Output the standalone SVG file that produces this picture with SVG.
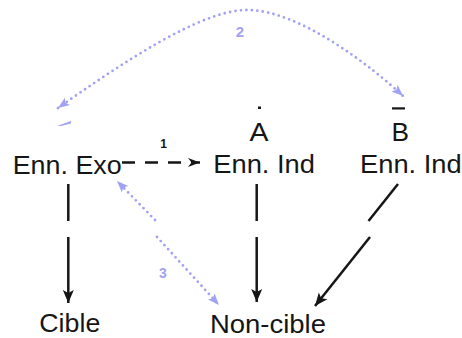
<svg xmlns="http://www.w3.org/2000/svg" width="462" height="338" viewBox="0 0 462 338">
  <style>
    .t { font-family: "Liberation Sans", Arial, sans-serif; font-size: 25px; fill: #161616; }
    .num { font-family: "Liberation Sans", Arial, sans-serif; font-weight: bold; text-anchor: middle; }
    .solid { stroke: #161616; stroke-width: 2.5; fill: none; }
    .dash { stroke: #161616; stroke-width: 2.6; fill: none; stroke-dasharray: 13 10; }
    .dot { stroke: #a2a2f4; stroke-width: 2.8; fill: none; stroke-dasharray: 0 5.5; stroke-linecap: round; }
  </style>
  <defs>
    <marker id="ab" markerUnits="userSpaceOnUse" markerWidth="14" markerHeight="12" refX="13" refY="6" orient="auto">
      <path d="M0,0.5 L13,6 L0,11.5 L3,6 Z" fill="#161616"/>
    </marker>
    <marker id="as" markerUnits="userSpaceOnUse" markerWidth="13" markerHeight="10" refX="12" refY="4.5" orient="auto">
      <path d="M0,0 L12,4.5 L0,9 L3.5,4.5 Z" fill="#161616"/>
    </marker>
    <marker id="al" markerUnits="userSpaceOnUse" markerWidth="13" markerHeight="10" refX="11.5" refY="4.5" orient="auto-start-reverse">
      <path d="M0,0 L11.5,4.5 L0,9 L2.5,4.5 Z" fill="#a2a2f4"/>
    </marker>
  </defs>

  <g id="exo">
    <text class="t" x="12.7" y="173.5" textLength="109" lengthAdjust="spacingAndGlyphs">Enn. Exo</text>
  </g>
  <g id="indA">
    <text class="t" x="249.5" y="140.5" textLength="19" lengthAdjust="spacingAndGlyphs">A</text>
    <text class="t" x="213.3" y="173" textLength="101.7" lengthAdjust="spacingAndGlyphs">Enn. Ind</text>
    <rect x="258" y="106.5" width="3" height="2.5" fill="#161616"/>
  </g>
  <g id="indB">
    <text class="t" x="391.5" y="140.5" textLength="17.5" lengthAdjust="spacingAndGlyphs">B</text>
    <text class="t" x="360" y="173" textLength="101.7" lengthAdjust="spacingAndGlyphs">Enn. Ind</text>
    <rect x="392" y="107.3" width="13" height="2.2" fill="#161616"/>
  </g>
  <g id="cible">
    <text class="t" x="39.3" y="332" textLength="61" lengthAdjust="spacingAndGlyphs">Cible</text>
  </g>
  <g id="noncible">
    <text class="t" x="210" y="333" textLength="116" lengthAdjust="spacingAndGlyphs">Non-cible</text>
  </g>

  <g id="connectors">
    <!-- 1: Exo -> Ind A (dashed) -->
    <path class="dash" d="M122,162.5 L200,162.5" marker-end="url(#as)"/>
    <text class="num" x="163.5" y="148" font-size="12" fill="#161616">1</text>

    <!-- 2: Exo <-> Ind B (dotted curve) -->
    <path class="dot" d="M58,108 C118,66 200,10 247,10 C300,10 373,68 403,96" marker-start="url(#al)" marker-end="url(#al)"/>
    <path d="M57,126 L71,121 L71,123.5 L61,126 Z" fill="#a2a2f4"/>
    <text class="num" x="240" y="36.5" font-size="15" fill="#a2a2f4">2</text>

    <!-- 3: Exo <-> Non-cible (dotted) -->
    <path class="dot" d="M155,220 L117,181" marker-end="url(#al)"/>
    <path class="dot" d="M157,237 L219,305" marker-end="url(#al)"/>
    <text class="num" x="163" y="277.5" font-size="14" fill="#a2a2f4">3</text>

    <!-- Exo -> Cible -->
    <path class="solid" d="M68.3,184 L68.3,221"/>
    <path class="solid" d="M68.3,237 L68.3,303" marker-end="url(#ab)"/>

    <!-- Ind A -> Non-cible -->
    <path class="solid" d="M256.7,184 L256.7,221"/>
    <path class="solid" d="M256.7,237 L256.7,302" marker-end="url(#ab)"/>

    <!-- Ind B -> Non-cible -->
    <path class="solid" d="M398,184 L368.5,221"/>
    <path class="solid" d="M370,237 L315,306" marker-end="url(#ab)"/>
  </g>
</svg>
